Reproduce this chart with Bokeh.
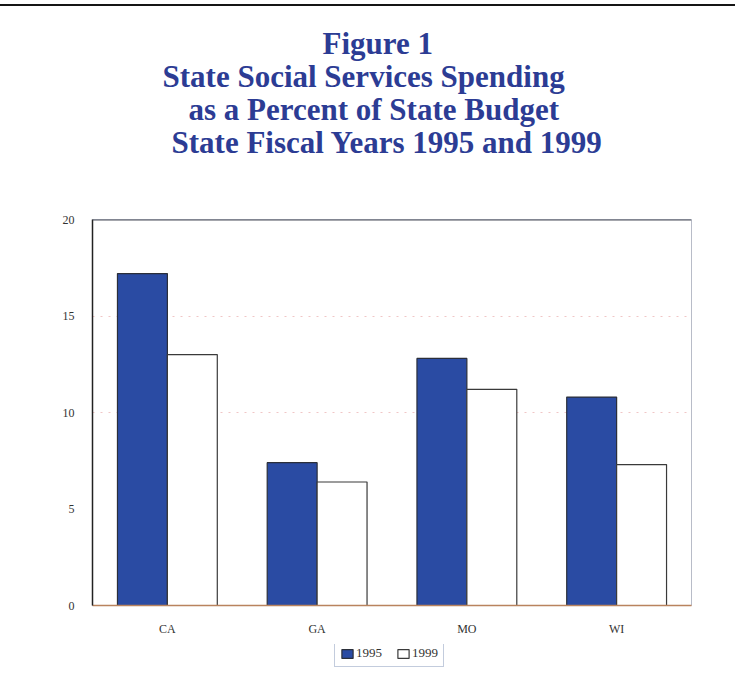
from bokeh.plotting import figure
from bokeh.layouts import column
from bokeh.models import (ColumnDataSource, FactorRange, Range1d, Title, Legend,
                          LegendItem, FixedTicker, Span)
from bokeh.transform import dodge
from bokeh.embed import file_html
from bokeh.resources import INLINE

# Social services spending, percent of state budget
states = ["CA", "GA", "MO", "WI"]
fy1995 = [17.2, 7.4, 12.8, 10.8]
fy1999 = [13.0, 6.4, 11.2, 7.3]
y_ticks = [0, 5, 10, 15, 20]
series_names = ["1995", "1999"]

title_lines = [
    "Figure 1",
    "State Social Services Spending",
    "as a Percent of State Budget",
    "State Fiscal Years 1995 and 1999",
]
# left offsets of each heading line from the frame edge
title_offsets = [230, 70, 96, 79]

source = ColumnDataSource(data=dict(state=states, fy1995=fy1995, fy1999=fy1999))

SERIF = "Liberation Serif"
NAVY = "#2c3c94"
BLUE = "#2a4ba3"
BAR_STYLES = [dict(fill_color=BLUE, line_color="#2b2f3a"),
              dict(fill_color="white", line_color="#3a3a3a")]

p = figure(
    width=735, height=638,
    x_range=FactorRange(*states, range_padding=0),
    y_range=Range1d(0, 20),
    output_backend="svg", toolbar_location=None, tools="",
    min_border_left=92, min_border_right=44, min_border_top=213, min_border_bottom=39,
)
p.title = None

# gap between the heading and the chart frame
p.add_layout(Title(text=" ", text_font_size="54px", standoff=0), "above")
# heading, one line per title entry (added bottom-up)
for line, off in reversed(list(zip(title_lines, title_offsets))):
    p.add_layout(Title(
        text=line, align="left", offset=off, standoff=-4,
        text_font=SERIF, text_font_size="31px", text_font_style="bold",
        text_color=NAVY,
    ), "above")

p.vbar(x=dodge("state", -1/6, range=p.x_range), top="fy1995", width=1/3,
       source=source, line_width=1.2, **BAR_STYLES[0])
p.vbar(x=dodge("state", 1/6, range=p.x_range), top="fy1999", width=1/3,
       source=source, line_width=1.2, **BAR_STYLES[1])

# axes
p.yaxis.ticker = FixedTicker(ticks=y_ticks)
p.yaxis.major_tick_line_color = None
p.yaxis.minor_tick_line_color = None
p.yaxis.axis_line_color = "#222222"
p.yaxis.axis_line_width = 1.5
p.yaxis.major_label_text_font = SERIF
p.yaxis.major_label_text_font_size = "12px"
p.yaxis.major_label_text_color = "#333333"
p.yaxis.major_label_standoff = 12

p.xaxis.major_tick_line_color = None
p.xaxis.axis_line_color = "#b9835e"
p.xaxis.axis_line_width = 1.5
p.xaxis.major_label_text_font = SERIF
p.xaxis.major_label_text_font_size = "12px"
p.xaxis.major_label_text_color = "#333333"
p.xaxis.major_label_standoff = 10

# faint dotted guide lines
p.xgrid.grid_line_color = None
p.ygrid.ticker = FixedTicker(ticks=[10, 15])
p.ygrid.grid_line_color = "#e6a0a0"
p.ygrid.grid_line_alpha = 0.6
p.ygrid.grid_line_dash = "2 6"

# frame: light box with a darker top edge
p.outline_line_color = "#b8bcc8"
p.outline_line_width = 1
p.add_layout(Span(location=20, dimension="width", line_color="#4a4f5a", line_width=2))

# legend strip underneath the chart
lg = figure(width=735, height=32, x_range=Range1d(0, 1), y_range=Range1d(0, 1),
            output_backend="svg", toolbar_location=None, tools="",
            x_axis_type=None, y_axis_type=None,
            min_border_left=0, min_border_right=0, min_border_top=0, min_border_bottom=0)
lg.outline_line_color = None
lg.xgrid.visible = False
lg.ygrid.visible = False
# key glyphs sit below the visible range; only their legend swatches show
keys = [lg.vbar(x=[0.5], bottom=[-3], top=[-2], width=0.1, line_width=1.2, **style)
        for style in BAR_STYLES]

legend = Legend(
    items=[LegendItem(label=name, renderers=[r]) for name, r in zip(series_names, keys)],
    orientation="horizontal", location=(242, 9),
    label_text_font=SERIF, label_text_font_size="13px", label_text_color="#333333",
    glyph_width=14, glyph_height=11, label_standoff=2, spacing=14,
    padding=5, margin=0,
    border_line_color="#8899bb", border_line_width=1,
)
lg.add_layout(legend, "center")

page = column(p, lg, spacing=0)
# thin page rule across the top
page.styles = {"margin-top": "4px", "border-top": "2px solid #151515"}
open("out.html", "w").write(file_html(page, INLINE))
